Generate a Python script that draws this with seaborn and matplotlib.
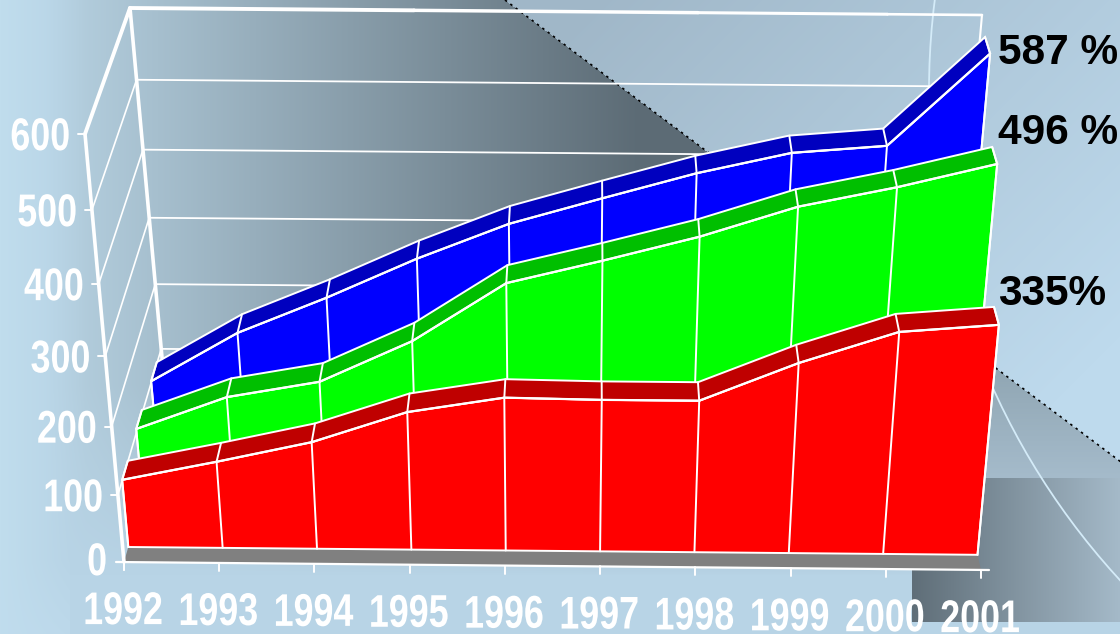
import numpy as np
import matplotlib
matplotlib.use("Agg")
import matplotlib.pyplot as plt
import matplotlib.patheffects as pe
from matplotlib.patches import Circle
from matplotlib.transforms import Affine2D
import seaborn as sns

YEARS = [1992, 1993, 1994, 1995, 1996, 1997, 1998, 1999, 2000, 2001]
RED_VALUES = [101, 129, 159, 204, 226, 224, 224, 279, 324, 335]
GREEN_VALUES = [105, 154, 178, 239, 324, 357, 392, 435, 463, 496]
BLUE_VALUES = [102, 177, 231, 290, 342, 380, 417, 447, 458, 587]
VALUE_TICKS = [0, 100, 200, 300, 400, 500, 600]
END_LABELS = ["335%", "496 %", "587 %"]

W, H = 1120, 634
V_MAX = 600.0
# pixel positions of the chart box corners, (year, value, depth)
BOX = {(0, 0, 0): (124, 562), (1, 0, 0): (981, 570), (0, 1, 0): (85, 134), (1, 1, 0): (1021, 141),
       (0, 0, 1): (167, 412), (1, 0, 1): (946, 418), (0, 1, 1): (130, 8), (1, 1, 1): (982, 15)}
PERSPECTIVE = 1.08
RIBBON = 0.13


def project(t, v, d):
    """Map year index, value and depth to picture pixels."""
    a = np.asarray(t, dtype=float) / (len(YEARS) - 1)
    w = np.asarray(v, dtype=float) / V_MAX
    b = w / (w + PERSPECTIVE * (1 - w))
    x, y = 0.0, 0.0
    for (i, j, k), (px, py) in BOX.items():
        f = (a if i else 1 - a) * (b if j else 1 - b) * (d if k else 1 - d)
        x = x + f * px
        y = y + f * py
    return x, y


class Narrow(pe.AbstractPathEffect):
    """Squeeze text sideways, there is no narrow bold font installed."""

    def __init__(self, x, y, fx=0.86, fy=1.1, drop=0):
        super().__init__()
        self.x, self.y, self.fx, self.fy, self.drop = x, H - y, fx, fy, drop

    def draw_path(self, renderer, gc, tpath, affine, rgbFace=None):
        squeeze = (Affine2D().translate(-self.x, -self.y).scale(self.fx, self.fy)
                   .translate(self.x, self.y - self.drop))
        renderer.draw_path(gc, tpath, affine + squeeze, rgbFace)


def lerp(c0, c1, f):
    f = np.clip(f, 0, 1)[..., None]
    return np.array(c0) * (1 - f) + np.array(c1) * f


def background():
    yy, xx = np.mgrid[0:H, 0:W].astype(float)
    # plain page, slightly lighter at the left edge
    img = lerp((192, 221, 237), (184, 212, 230), xx / 70)
    img = lerp(img, (192, 220, 238), (yy - 560) / 74 * (xx < 70) * 0.6)
    below = yy > 0.75 * (xx - 505)
    # light panel above the diagonal
    panel = lerp((160, 183, 200), (190, 218, 237), ((xx + yy) / 1400 - 0.42) / 0.62)
    img[~below] = panel[~below]
    # dark sweep left of the diagonal, fades out below the plot
    sweep = lerp((181, 208, 224), (92, 107, 117), (xx - 60) / 580)
    fade = np.clip((575 - yy) / 190, 0, 1)[..., None] * np.clip((xx - 45) / 40, 0, 1)[..., None]
    mask = below & (xx < 1000)
    mixed = img * (1 - fade) + sweep * fade
    img[mask] = mixed[mask]
    # grey wedge right of the plot
    wedge = lerp((143, 165, 178), (165, 187, 203), (yy - 360) / 118)
    m = below & (xx >= 900) & (yy < 478)
    img[m] = wedge[m]
    # dark box bottom right
    box = lerp((95, 110, 120), (165, 186, 201), (xx - 912) / 208)
    m = (xx >= 912) & (yy >= 478) & (yy < 622)
    img[m] = box[m]
    return img.astype(np.uint8)


sns.set_theme(style="white")
plt.rcParams["font.family"] = ["Liberation Sans", "DejaVu Sans"]

fig = plt.figure(figsize=(W / 100, H / 100), dpi=100)
ax = fig.add_axes([0, 0, 1, 1])
ax.imshow(background(), extent=(0, W, H, 0), aspect="auto", zorder=0, interpolation="bilinear")

ax.add_patch(Circle((1651, 91), 722, fill=False, ec="#d4ebf8", lw=1.3, zorder=1))
ax.plot([505, 1125], [0, 465], color="black", lw=1.2, ls=(0, (1.5, 2.5)), zorder=1)

T = np.arange(len(YEARS))


def line(xs, ys, lw=1.4, z=5, color="white"):
    sns.lineplot(x=np.asarray(xs, dtype=float), y=np.asarray(ys, dtype=float), sort=False, estimator=None,
                 color=color, lw=lw, zorder=z, ax=ax, legend=False, solid_capstyle="round")


# walls
for v in VALUE_TICKS[1:-1]:
    x, y = project(T[[0, -1]], [v, v], 1)
    line(x, y, lw=1.3, z=2)
    x, y = project([0, 0], [v, v], np.array([0.0, 1.0]))
    line(x, y, lw=1.2, z=2)
x, y = project([0, 0], [600, 600], np.array([0.0, 1.0]))
line(x, y, lw=2.8, z=3)
x, y = project([0, 0], [0, 600], 1)
line(x, y, lw=2.6, z=3)
for t0, t1, lw in ((0, 3, 2.8), (3, 6, 2.5), (6, 8, 2.2), (8, 9, 1.9)):
    x, y = project([t0, t1], [600, 600], 1)
    line(x, y, lw=lw, z=3)
x, y = project([9, 9], [0, 600], 1)
line(x, y, lw=1.5, z=3)

# floor
fx, fy = project([0, 9, 9, 0], [0, 0, 0, 0], np.array([0.0, 0.0, 1.0, 1.0]))
ax.fill(fx, fy, color="#808080", zorder=4, lw=0)

SERIES = [(BLUE_VALUES, 0.77, "#0000ff", "#0000bf", 10),
          (GREEN_VALUES, 0.43, "#00ff00", "#00bf00", 20),
          (RED_VALUES, 0.10, "#ff0000", "#bf0000", 30)]

for values, depth, face, dark, z in SERIES:
    values = np.array(values, dtype=float)
    xf, yf = project(T, values, depth)
    xb, yb = project(T, values, depth + RIBBON)
    x0, y0 = project(T, 0 * values, depth)
    ax.fill(np.r_[xf, x0[::-1]], np.r_[yf, y0[::-1]], facecolor=face, edgecolor="white", lw=1.4, zorder=z)
    ax.fill(np.r_[xf, xb[::-1]], np.r_[yf, yb[::-1]], facecolor=dark, edgecolor="white", lw=1.4, zorder=z + 1)
    for i in T:
        line([x0[i], xf[i]], [y0[i], yf[i]], lw=1.4, z=z + 2)
        line([xf[i], xb[i]], [yf[i], yb[i]], lw=1.4, z=z + 2)
    line(xf, yf, lw=1.6, z=z + 3)

# front axes and ticks
x, y = project([0, 0], [0, 600], 0)
line(x, y, lw=2.6, z=40)
x, y = project([0, 9], [0, 0], 0)
line([x[0] - 8, x[1] + 8], y, lw=1.6, z=40)
for v in VALUE_TICKS[1:]:
    x, y = project(0, v, 0)
    line([x - 7, x], [y, y], lw=1.4, z=40)
    ax.text(x - 15, y + 4, str(v), color="white", fontsize=30, fontweight="bold", ha="right", va="center",
            zorder=45, path_effects=[Narrow(x - 15, y + 4)])
x, y = project(0, 0, 0)
line([x, x], [y, y + 8], lw=1.4, z=40)
ax.text(x - 17, y + 1, "0", color="white", fontsize=30, fontweight="bold", ha="right", va="center",
        zorder=45, path_effects=[Narrow(x - 17, y + 1)])
for i, year in enumerate(YEARS):
    x, y = project(i, 0, 0)
    line([x, x], [y, y + 8], lw=1.4, z=40)
    ax.text(x - 1, y + 39, str(year), color="white", fontsize=30, fontweight="bold", ha="center", va="center",
            zorder=45, path_effects=[Narrow(x - 1, y + 39, drop=11)])

for label, top in zip(END_LABELS, (294, 133, 53)):
    ax.text(998, top, label, color="black", fontsize=30.5, fontweight="bold", ha="left", va="center", zorder=45)

ax.set_xlim(0, W)
ax.set_ylim(H, 0)
ax.set_axis_off()
fig.savefig("out.png", dpi=100)
plt.close(fig)
